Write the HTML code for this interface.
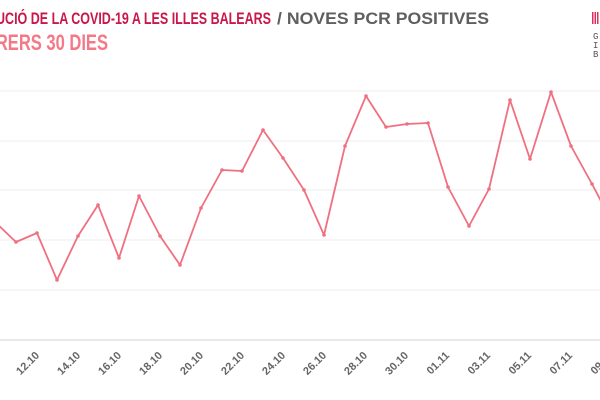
<!DOCTYPE html>
<html><head><meta charset="utf-8"><style>
html,body{margin:0;padding:0;background:#fff;width:600px;height:400px;overflow:hidden}
svg{display:block}
</style></head><body>
<svg width="600" height="400" viewBox="0 0 600 400" font-family="'Liberation Sans',sans-serif">
<text x="271" y="24" text-anchor="end" font-size="17" font-weight="bold" fill="#c8174a" textLength="309" lengthAdjust="spacingAndGlyphs">EVOLUCIÓ DE LA COVID-19 A LES ILLES BALEARS</text>
<text x="277" y="24" font-size="17" font-weight="bold" fill="#5f5f5f" textLength="212" lengthAdjust="spacingAndGlyphs">/ NOVES PCR POSITIVES</text>
<text x="108" y="50" text-anchor="end" font-size="22" font-weight="bold" fill="#f47886" textLength="148" lengthAdjust="spacingAndGlyphs">DARRERS 30 DIES</text>
<g fill="#d9325e"><rect x="592" y="12" width="1.5" height="12"/><rect x="594.5" y="12" width="1.5" height="12"/><rect x="597" y="12" width="1.5" height="12"/></g>
<g font-family="'Liberation Mono',monospace" font-size="9" fill="#555"><text x="593" y="39">G</text><text x="593" y="48">I</text><text x="593" y="57">B</text></g>
<g stroke="#ececec" stroke-width="1">
<line x1="0" y1="91" x2="600" y2="91"/><line x1="0" y1="141" x2="600" y2="141"/><line x1="0" y1="190" x2="600" y2="190"/><line x1="0" y1="240" x2="600" y2="240"/><line x1="0" y1="290" x2="600" y2="290"/></g>
<line x1="0" y1="340" x2="600" y2="340" stroke="#e2e2e2" stroke-width="1.5"/>
<polyline fill="none" stroke="#f07080" stroke-width="1.8" stroke-linejoin="round" points="-5,222 16,242 37,233 57,280 78,236 98,205 119,258 139,196 160,236 180,265 201,208 222,170 242,171 263,130 283,158 304,190 324,235 345,146 366,96 386,127 407,124 428,123 448,187 469,226 489,189 510,100 530,159 551,92 571,146 592,184 612,222"/>
<g fill="#f07080">
<circle cx="16" cy="242" r="1.8"/><circle cx="37" cy="233" r="1.8"/><circle cx="57" cy="280" r="1.8"/><circle cx="78" cy="236" r="1.8"/><circle cx="98" cy="205" r="1.8"/><circle cx="119" cy="258" r="1.8"/><circle cx="139" cy="196" r="1.8"/><circle cx="160" cy="236" r="1.8"/><circle cx="180" cy="265" r="1.8"/><circle cx="201" cy="208" r="1.8"/><circle cx="222" cy="170" r="1.8"/><circle cx="242" cy="171" r="1.8"/><circle cx="263" cy="130" r="1.8"/><circle cx="283" cy="158" r="1.8"/><circle cx="304" cy="190" r="1.8"/><circle cx="324" cy="235" r="1.8"/><circle cx="345" cy="146" r="1.8"/><circle cx="366" cy="96" r="1.8"/><circle cx="386" cy="127" r="1.8"/><circle cx="407" cy="124" r="1.8"/><circle cx="428" cy="123" r="1.8"/><circle cx="448" cy="187" r="1.8"/><circle cx="469" cy="226" r="1.8"/><circle cx="489" cy="189" r="1.8"/><circle cx="510" cy="100" r="1.8"/><circle cx="530" cy="159" r="1.8"/><circle cx="551" cy="92" r="1.8"/><circle cx="571" cy="146" r="1.8"/><circle cx="592" cy="184" r="1.8"/></g>
<g font-size="11" font-weight="bold" fill="#666" text-anchor="end">
<text transform="translate(-2,356) rotate(-45)">10.10</text>
<text transform="translate(40,356) rotate(-45)">12.10</text>
<text transform="translate(81,356) rotate(-45)">14.10</text>
<text transform="translate(122,356) rotate(-45)">16.10</text>
<text transform="translate(163,356) rotate(-45)">18.10</text>
<text transform="translate(204,356) rotate(-45)">20.10</text>
<text transform="translate(245,356) rotate(-45)">22.10</text>
<text transform="translate(286,356) rotate(-45)">24.10</text>
<text transform="translate(327,356) rotate(-45)">26.10</text>
<text transform="translate(368,356) rotate(-45)">28.10</text>
<text transform="translate(409,356) rotate(-45)">30.10</text>
<text transform="translate(450,356) rotate(-45)">01.11</text>
<text transform="translate(491,356) rotate(-45)">03.11</text>
<text transform="translate(532,356) rotate(-45)">05.11</text>
<text transform="translate(573,356) rotate(-45)">07.11</text>
<text transform="translate(614,356) rotate(-45)">09.11</text>
</g>
</svg>
</body></html>
